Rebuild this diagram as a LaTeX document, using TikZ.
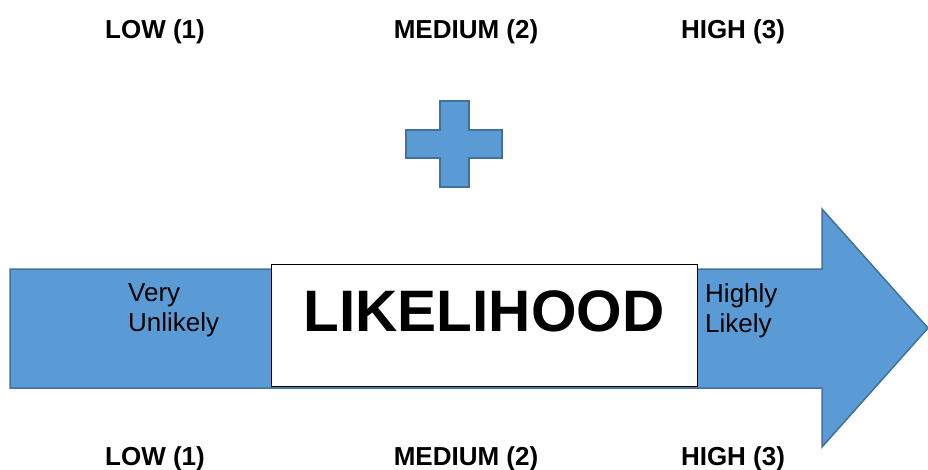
\documentclass[tikz,border=0pt]{standalone}
\usepackage{fontspec}
\setmainfont{Liberation Sans}
\definecolor{shapefill}{HTML}{5B9BD5}
\definecolor{shapeline}{HTML}{41719C}
\begin{document}
\begin{tikzpicture}[x=1pt,y=-1pt,
  bluefill/.style={fill=shapefill,draw=shapeline,line width=1.5pt,line join=miter},
  levellabel/.style={font=\fontsize{26}{30}\selectfont\bfseries,inner sep=0pt,anchor=base},
  sidelabel/.style={font=\fontsize{26}{30}\selectfont,inner sep=0pt,anchor=north west,align=left},
  titlebox/.style={draw=black,line width=1pt,fill=white,minimum width=426pt,minimum height=122pt,inner sep=0pt}]
  \useasboundingbox (0,0) rectangle (928,470);
  % plus sign
  \draw[bluefill] (440,101) -- (469,101) -- (469,130) -- (502,130) -- (502,158) -- (469,158)
    -- (469,187) -- (440,187) -- (440,158) -- (406,158) -- (406,130) -- (440,130) -- cycle;
  % block arrow
  \draw[bluefill] (10,269) -- (822,269) -- (822,209) -- (928,328) -- (822,447) -- (822,388)
    -- (10,388) -- cycle;
  % title box on the arrow
  \node[titlebox] (box) at (484,325) {};
  \node[font=\fontsize{58.5}{60}\selectfont\bfseries,inner sep=0pt,anchor=base] (lik) at (484,331) {LIKELIHOOD};
  \node[sidelabel] (vu) at (128,283) {Very\\Unlikely};
  \node[sidelabel] (hl) at (705,283) {Highly\\Likely};
  % scale labels
  \node[levellabel] (lowt) at (155,39) {LOW (1)};
  \node[levellabel] (medt) at (466,39) {MEDIUM (2)};
  \node[levellabel] (hight) at (733,39) {HIGH (3)};
  \node[levellabel] (lowb) at (155,465) {LOW (1)};
  \node[levellabel] (medb) at (466,465) {MEDIUM (2)};
  \node[levellabel] (highb) at (733,465) {HIGH (3)};
\end{tikzpicture}
\end{document}
